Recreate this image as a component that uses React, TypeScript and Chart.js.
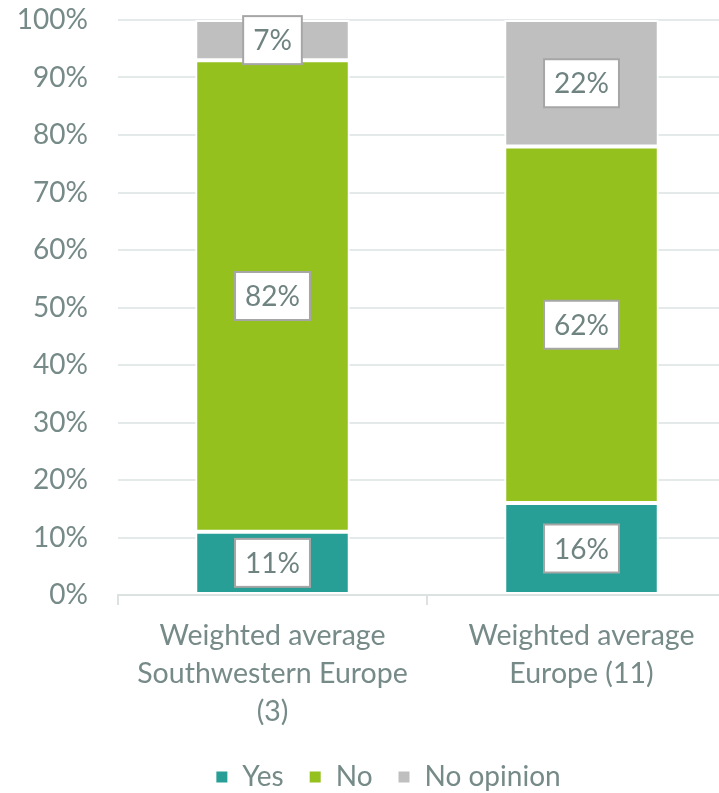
import React, { useEffect, useRef } from "react";
import { Chart, registerables } from "chart.js";

Chart.register(...registerables);

const categories: string[][] = [
  ["Weighted average", "Southwestern Europe", "(3)"],
  ["Weighted average", "Europe (11)"],
];
const seriesNames = ["Yes", "No", "No opinion"];
const yesValues = [11, 16];
const noValues = [82, 62];
const noOpinionValues = [7, 22];
const seriesColors = ["#279E96", "#95C11F", "#BFBFBF"];

const FONT = "Lato, 'Open Sans', sans-serif";
const TEXT = "#768A88";

const boxLabels = {
  id: "boxLabels",
  afterDatasetsDraw(chart: any) {
    const ctx = chart.ctx;
    ctx.save();
    ctx.font = `28px ${FONT}`;
    chart.data.datasets.forEach((ds: any, i: number) => {
      const meta = chart.getDatasetMeta(i);
      meta.data.forEach((bar: any, j: number) => {
        const v = ds.data[j];
        const { x, y, base } = bar.getProps(["x", "y", "base"], true);
        const cy = (y + base) / 2;
        const text = `${v}%`;
        const w = ctx.measureText(text).width + 20;
        const h = 48;
        ctx.fillStyle = "#FFFFFF";
        ctx.fillRect(x - w / 2, cy - h / 2, w, h);
        ctx.strokeStyle = "#A6A6A6";
        ctx.lineWidth = 2;
        ctx.strokeRect(x - w / 2, cy - h / 2, w, h);
        ctx.fillStyle = "#6F8381";
        ctx.textAlign = "center";
        ctx.textBaseline = "middle";
        ctx.fillText(text, x, cy + 1);
      });
    });
    ctx.restore();
  },
};

export default function App() {
  const ref = useRef<HTMLCanvasElement>(null);
  useEffect(() => {
    if (!ref.current) return;
    const chart = new Chart(ref.current, {
      type: "bar",
      data: {
        labels: categories,
        datasets: [
          { label: seriesNames[0], data: yesValues, backgroundColor: seriesColors[0] },
          { label: seriesNames[1], data: noValues, backgroundColor: seriesColors[1] },
          { label: seriesNames[2], data: noOpinionValues, backgroundColor: seriesColors[2] },
        ].map((d) => ({
          ...d,
          borderColor: "#FFFFFF",
          borderWidth: 2,
          borderSkipped: false,
          barPercentage: 0.5,
          categoryPercentage: 1,
        })),
      },
      options: {
        responsive: false,
        animation: false,
        layout: { padding: { top: 20, left: 0, right: 0, bottom: -8 } },
        plugins: {
          tooltip: { enabled: false },
          legend: {
            position: "bottom",
            labels: {
              boxWidth: 13,
              boxHeight: 13,
              padding: 25,
              color: TEXT,
              font: { family: FONT, size: 28 },
            },
          },
        },
        scales: {
          x: {
            stacked: true,
            grid: {
              display: true,
              drawOnChartArea: false,
              tickLength: 10,
              color: "#DCE2E2",
              lineWidth: 2,
            },
            border: { display: true, color: "#DCE2E2", width: 2 },
            ticks: {
              color: TEXT,
              padding: 12,
              font: { family: FONT, size: 28.5, lineHeight: 1.33 },
              maxRotation: 0,
            },
            afterFit: (s: any) => {
              s.height = 143;
            },
          },
          y: {
            stacked: true,
            min: 0,
            max: 100,
            grid: {
              color: "#E4E9E9",
              lineWidth: 2,
              drawTicks: true,
              tickLength: 30,
              tickColor: "rgba(0,0,0,0)",
            },
            border: { display: false },
            ticks: {
              stepSize: 10,
              padding: 0,
              color: TEXT,
              font: { family: FONT, size: 28 },
              callback: (v: any) => `${v}%`,
            },
            afterFit: (s: any) => {
              s.width = 118;
            },
          },
          y2: {
            position: "right",
            display: true,
            grid: { display: false },
            border: { display: false },
            ticks: { display: false },
            afterFit: (s: any) => {
              s.width = 40;
            },
          },
        },
      },
      plugins: [boxLabels],
    });
    return () => chart.destroy();
  }, []);
  return (
    <div
      style={{
        position: "fixed",
        left: 0,
        top: 0,
        width: 719,
        height: 793,
        overflow: "hidden",
        background: "#fff",
      }}
    >
      <canvas ref={ref} width={776} height={793} style={{ display: "block" }} />
    </div>
  );
}
